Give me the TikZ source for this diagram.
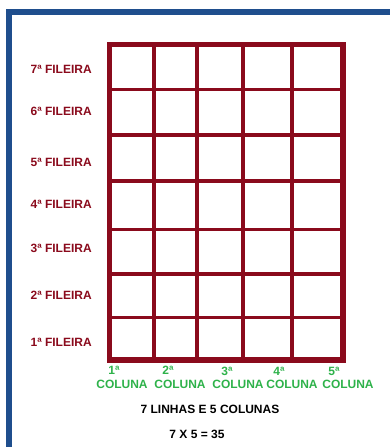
\documentclass[tikz,border=0pt]{standalone}
\usepackage{fontspec}
\setmainfont{Liberation Sans}
\usetikzlibrary{positioning}
\definecolor{frameblue}{HTML}{1F4E8D}
\definecolor{gridred}{HTML}{8A0A1C}
\definecolor{colgreen}{HTML}{2EB24A}

\begin{document}
\begin{tikzpicture}[
    x=0.75pt, y=-0.75pt,
    frame/.style={draw=frameblue, line width=4.5pt},
    outer/.style={draw=gridred, line width=3.8pt},
    inner/.style={draw=gridred, line width=2.3pt},
    rowlabel/.style={anchor=east, text=gridred, font=\fontsize{9}{10}\selectfont\bfseries, inner sep=0pt},
    colnum/.style={text=colgreen, font=\fontsize{9}{10}\selectfont\bfseries, inner sep=0pt},
    collabel/.style={text=colgreen, font=\fontsize{9}{10}\selectfont\bfseries, inner sep=0pt},
    result/.style={text=black, font=\fontsize{9}{10}\selectfont\bfseries, inner sep=0pt}
]
\useasboundingbox (0,0) rectangle (390,447);

% Frame
\draw[frame] (9,447) -- (9,12) -- (390,12);

% Grid
\foreach \x in {154,197,243,292}
    \draw[inner] (\x,44.5) -- (\x,360);
\foreach \y in {89.5,135,181,229.5,274,317.5}
    \draw[inner] (109.5,\y) -- (343,\y);
\draw[outer] (109.5,44.5) rectangle (343,360);

% Rows
\node[rowlabel] (row7) at (92,69) {7ª FILEIRA};
\node[rowlabel] (row6) at (92,111) {6ª FILEIRA};
\node[rowlabel] (row5) at (92,162) {5ª FILEIRA};
\node[rowlabel] (row4) at (92,204) {4ª FILEIRA};
\node[rowlabel] (row3) at (92,248) {3ª FILEIRA};
\node[rowlabel] (row2) at (92,295) {2ª FILEIRA};
\node[rowlabel] (row1) at (92,342) {1ª FILEIRA};

% Columns
\node[colnum] (num1) at (114,370) {1ª};
\node[colnum] (num2) at (168,370) {2ª};
\node[colnum] (num3) at (227,371) {3ª};
\node[colnum] (num4) at (279,371) {4ª};
\node[colnum] (num5) at (334,371) {5ª};
\node[collabel] (col1) at (122,384) {COLUNA};
\node[collabel] (col2) at (180,384) {COLUNA};
\node[collabel] (col3) at (238,384) {COLUNA};
\node[collabel] (col4) at (292,384) {COLUNA};
\node[collabel] (col5) at (348,384) {COLUNA};

% Result
\node[result] (lines) at (210,409) {7 LINHAS E 5 COLUNAS};
\node[result] (total) at (197,434) {7 X 5 = 35};

\end{tikzpicture}
\end{document}
